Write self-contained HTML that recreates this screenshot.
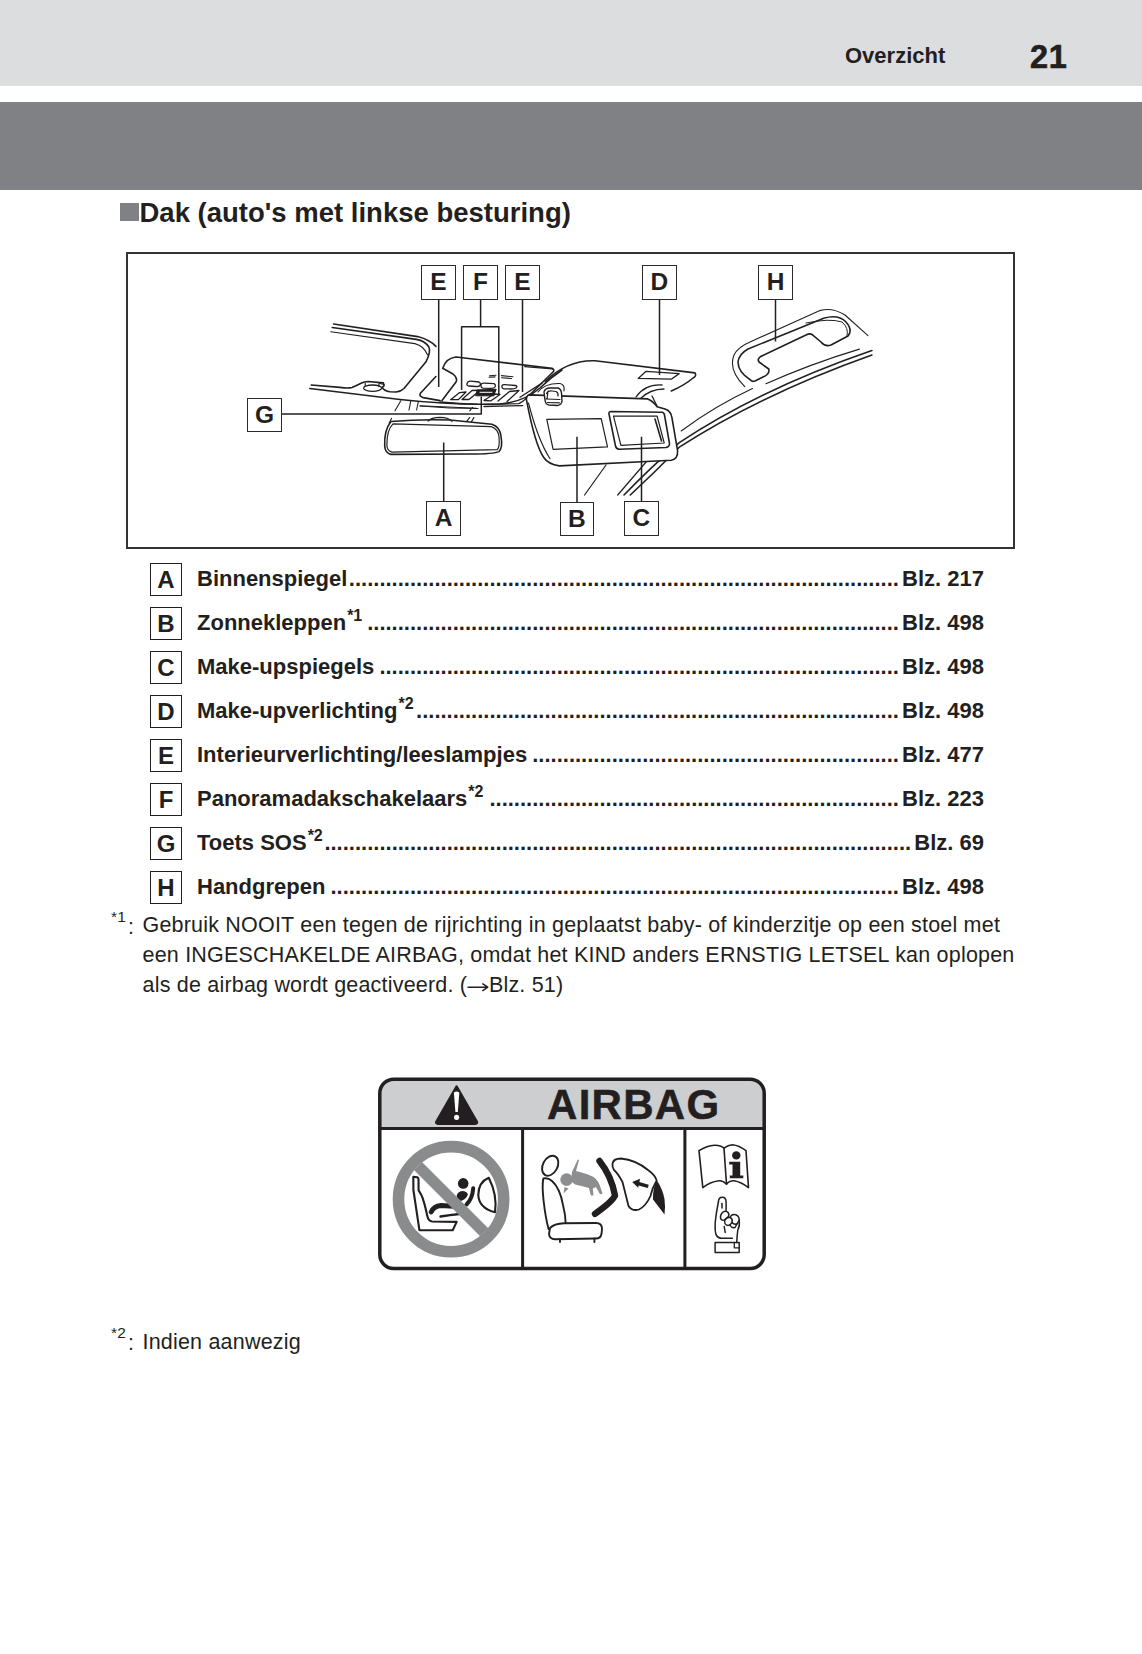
<!DOCTYPE html>
<html><head><meta charset="utf-8">
<style>
html,body{margin:0;padding:0;}
body{width:1142px;height:1654px;position:relative;background:#fff;overflow:hidden;font-family:"Liberation Sans",sans-serif;color:#231f20;}
.abs{position:absolute;}
#topbar{left:0;top:0;width:1142px;height:86px;background:#dcdddf;}
#darkbar{left:0;top:102px;width:1142px;height:88px;background:#808185;}
.hdr{font-weight:bold;white-space:nowrap;line-height:1;}
.lbl{position:absolute;box-sizing:border-box;border:1.8px solid #2b2b2b;width:34.4px;height:34.4px;font-weight:bold;font-size:24.5px;line-height:31.7px;text-align:center;background:#fff;}
.li{position:absolute;left:149.7px;width:32.7px;height:32.7px;box-sizing:border-box;border:1.5px solid #231f20;font-size:24px;line-height:31px;text-align:center;font-weight:bold;}
.row{position:absolute;left:197px;width:787px;height:38px;font-weight:bold;font-size:22px;line-height:24px;white-space:nowrap;overflow:hidden;}
.row .t{position:absolute;left:0;top:10px;}
.row .d{position:absolute;top:10px;}
.row .p{position:absolute;right:0;top:10px;}
sup{font-size:16px;vertical-align:0;position:relative;top:-9px;margin-left:1px;}
.fn{font-size:21.5px;line-height:30px;white-space:nowrap;letter-spacing:0.2px;}
</style></head>
<body>
<div id="topbar" class="abs"></div>
<div id="darkbar" class="abs"></div>
<div class="abs hdr" style="left:845px;top:44.5px;font-size:22px;">Overzicht</div>
<div class="abs hdr" style="left:1030px;top:40.5px;font-size:32.5px;letter-spacing:0.8px;-webkit-text-stroke:0.6px #231f20;">21</div>

<div class="abs" style="left:119.5px;top:202.5px;width:19px;height:18.5px;background:#808185;"></div>
<div class="abs hdr" style="left:139.5px;top:198.5px;font-size:27.5px;">Dak (auto's met linkse besturing)</div>

<!-- diagram frame -->
<div class="abs" style="left:126px;top:252.3px;width:889.4px;height:296.7px;box-sizing:border-box;border:2px solid #333;"></div>

<!-- diagram svg -->
<svg class="abs" style="left:0;top:0" width="1142" height="560" viewBox="0 0 1142 560" fill="none" stroke="#231f20" stroke-linecap="round" stroke-linejoin="round">
<g stroke-width="1.6">
<!-- roof left -->
<path d="M333.6 324 L417.7 336.6 Q430 340 435.9 346.4"/>
<path d="M311.2 385 L340 387.4 Q348 388.5 352 387.5 Q357 385.5 361 383.3 Q364 381.5 368 381.5 L383.4 382.9 L384.1 385.6 L382.2 387.4 Q384 391 390 391.8 L396 392 Q401 391.5 404 388.5 L426 361.8 Q431 352 428.9 347 Q425 341 416.3 339.4 L332.2 327.5"/>
<path d="M330.8 331.7 L414.9 343.6 Q424 346 427.5 354.8" stroke-width="1.1"/>
<ellipse cx="372.6" cy="388.2" rx="9" ry="3.2" stroke-width="1.3"/><path d="M365.2 383.3 V386 M378.9 383.6 V386.6 M380 383.5 L384 384.5" stroke-width="1.2"/>
<path d="M309.8 388.5 L400 399.5 Q455 405.5 500 404 Q524 402 540 388 Q550 378 562 370" />
<path d="M420 406 Q450 408.5 478 408.5" stroke-width="1.1"/>
<!-- console -->
<path d="M435.9 376.5 L420.2 393.5 Q419 396.5 423.3 397.6 L440 400.6"/>
<path d="M442 400.6 L456 382 Q458 378 453 374 L442.7 368.3 Q446 358 456 357 L552 368.3 Q555 370 553 372 L526 398.5"/>
<path d="M467 384 Q467.5 381 471 381.2 L479 382 Q481 383 480 385.5 Q479 386.8 476 386.5 L469 386 Q466.5 385.8 467 384 Z M481 384.5 Q481.5 383 484 383.1 L494 383.6 Q496 384.5 495 387 Q494 388.5 491 388.4 L483 388.2 Q480.5 387.5 481 384.5 Z M502 386 Q502 384.5 505 384.7 L515.5 385.5 Q518 386 516 388 Q514.5 389 511 389 L504 388.8 Q501.5 388.5 502 386 Z" stroke-width="1.3"/>
<path d="M450.6 399.7 L459.7 392.6 L466 392 L458.5 399.5 Z M462 399.5 L472 390.5 L496 389.5 L495 391.5 L478 392 L469 399.5 Z M484 400.5 L494 394 L500 394.5 L491 400.8 Z M498 401 L509.5 391.5 L519 390.5 L507 401.5" stroke-width="1.3"/>
<path d="M477.5 390 L495.5 390 L494 395.8 L476 395.8 Z" fill="#231f20" stroke-width="1"/>
<path d="M480 392.3 L492 392.3" stroke="#fff" stroke-width="1"/>
<path d="M489.5 375.8 L496 375.3 M489 377.2 L495 376.9 M501.5 375.6 L513 376.8 M501.5 377.7 L511.5 378.5" stroke-width="1.1"/>
<path d="M440 402 Q460 404 477.8 404.4 M484.1 404.4 L518.8 403.6 Q525 401 530 394.2 M484 406.5 L522.7 405.6" stroke-width="1.3"/>
<!-- windshield thin lines left -->
<g stroke-width="1.1">
<path d="M395 410.8 L400.8 400.8 M409 410 L410.8 400.8 M416.6 410 L418.3 401.6 M420 405.8 L476.5 408.3 M469.8 410.8 L472.3 407.5"/>
<path d="M389.1 423.3 L391.6 418.3 M466.5 421.6 L469.8 417.4 M471.5 421.6 L474 417.4"/>
</g>
<!-- mirror -->
<path d="M391 421.5 Q420 419 450 420 L491.9 424.3 Q500 427 501 436.2 Q503 448 498.9 451.6 Q494 454 470 454 L391 454.4 Q385 453 384.7 446 Q384 430 391 421.5 Z"/>
<path d="M393 423.9 L491.3 426.6 Q498.3 429 499 437 Q500 447.5 497 449.7 L392 452.2 Q387.2 451 386.9 445.5 Q386.6 430 393 423.9 Z" stroke-width="1.2"/>
<path d="M428 421 Q431 417.5 440 417.3 Q449 417.5 452 421.5" stroke-width="1.2"/>
<!-- headliner above visor -->
<path d="M545.2 381.5 C558 369 574 360 595 360.8 L695 372.9 Q697 376 693 378 Q685 385 671.3 391"/>
<path d="M520 397.3 L542 383.1 M524.7 366.6 L552.3 368.9" stroke-width="1.3"/>
<path d="M638.2 378.4 L646.1 371.3 L679.2 373.6 L671.3 379.2 Z" stroke-width="1.3"/>

<path d="M636 397 Q645 384 662 385 M640 399 Q650 389 664 389 M652 396 L657 406" stroke-width="1.3"/>
<!-- roof lines right -->
<path d="M584.6 495 L606 465 M617.7 495 L646.1 462" stroke-width="1.2"/>
<path d="M624 495 Q650 468 679.3 442.6 Q760 389 871.9 350.5"/>
<path d="M630.3 495 Q655 472 679.3 447.2 Q762 394 871.9 355"/>
<path d="M681.2 431 Q715 406 752.5 388.6 M766 383.8 Q810 364 859.4 349.1" stroke-width="1.1"/>
<!-- visor -->
<path fill="#fff" d="M529.5 394.9 L647.7 398.9 Q653 401 657.1 406.7 L665 409.1 Q671 411 672 418 L677.6 450.9 Q678 459 671.3 460.3 L559.4 465.9 Q548 464 543.6 457.2 Q535 445 526.3 398.9 Q527 395 529.5 394.9 Z"/>
<path d="M528.5 403 Q538 440 550 458.8" stroke-width="1.1"/>
<path d="M546.8 419.4 L601.2 418.6 L607.5 446.9 L553.1 449.3 Z" stroke-width="1.2"/>
<path d="M611 411.5 L661.9 412.3 Q664 412.5 664.5 415 L669.5 443.5 Q669.5 447 666 447.5 L619.3 449.3 Q616 449 615.5 446 L609 414 Q608.5 411.5 611 411.5 Z"/>
<path d="M613.5 416.2 L657.1 416.2 L664.2 443 L620.9 445.4 Z" stroke-width="1.2"/>
<path d="M655 419 L661.5 441" stroke-width="1.6"/>
<path d="M544 392 Q545 388 550 388 L558 388 Q561 389 561.5 393 L562 401 Q561.5 405 557.5 405.5 L549 405 Q545.5 404.5 545 400 Z" fill="#fff" stroke-width="1.4"/>
<path d="M546.5 393.5 Q548 390.5 552 391 L556 391.5 Q558.5 392.5 558 396 M546 399 L560 399.5 M547.5 402.5 L559.5 402.8 M548 391 L547 399" stroke-width="1.2"/>
<path d="M538 392 Q545 383 560 383.5 Q565 384.5 564 391" stroke-width="1.1"/>
<!-- handle -->
<path d="M744.8 386.7 Q728 370 734 355 Q738 347 750 342 L819.9 310.6 Q832 307 845 315 L868 335.6" stroke-width="1.1"/>
<path d="M750.5 380 Q738 372 738 362 Q739 354 748 349 L823.7 318.3 Q838 314 846 322 Q853 330 848 336 L831 345 Q825 347 821 342 L812.2 334.7 Q810 333 806 335 L760.2 356.8 Q757 359 759 362 L768.8 369 Q770 374 763 377 L755 381 Q752 382 750.5 380 Z"/>
<path d="M806 323 Q830 318 842 322 Q849 328 847 336" stroke-width="1"/>
</g>
<!-- leaders -->
<g stroke-width="1.5" stroke-linecap="butt">
<path d="M438.7 299 V387 M480.6 299 V326.7 M461.6 390 V326.7 H498.8 V394.3 M522.5 299 V392 M659.5 299 V375 M775.5 299 V341.4 M281 414 H481.3 V396.5 M443.7 502 V442.5 M577 502 V436.7 M641.5 502 V436.7"/>
</g>
</svg>

<div class="lbl" style="left:421.3px;top:265.2px;">E</div>
<div class="lbl" style="left:463.2px;top:265.4px;">F</div>
<div class="lbl" style="left:505.3px;top:265.4px;">E</div>
<div class="lbl" style="left:642.2px;top:265.4px;">D</div>
<div class="lbl" style="left:758.3px;top:265.4px;">H</div>
<div class="lbl" style="left:247.4px;top:398.1px;">G</div>
<div class="lbl" style="left:426.3px;top:501.3px;">A</div>
<div class="lbl" style="left:559.6px;top:501.5px;">B</div>
<div class="lbl" style="left:624.2px;top:501.4px;">C</div>

<!-- list -->
<div class="li" style="top:563.1px;">A</div>
<div class="li" style="top:607.1px;">B</div>
<div class="li" style="top:651.1px;">C</div>
<div class="li" style="top:695.1px;">D</div>
<div class="li" style="top:739.1px;">E</div>
<div class="li" style="top:783.1px;">F</div>
<div class="li" style="top:827.1px;">G</div>
<div class="li" style="top:871.1px;">H</div>

<div class="row" style="top:557px;"><span class="t">Binnenspiegel</span><span class="d" style="left:151.84px;">..........................................................................................</span><span class="p">Blz. 217</span></div>
<div class="row" style="top:601px;"><span class="t">Zonnekleppen<sup>*1</sup> </span><span class="d" style="left:170.17px;">.......................................................................................</span><span class="p">Blz. 498</span></div>
<div class="row" style="top:645px;"><span class="t">Make-upspiegels </span><span class="d" style="left:182.40px;">.....................................................................................</span><span class="p">Blz. 498</span></div>
<div class="row" style="top:689px;"><span class="t">Make-upverlichting<sup>*2</sup></span><span class="d" style="left:219.07px;">...............................................................................</span><span class="p">Blz. 498</span></div>
<div class="row" style="top:733px;"><span class="t">Interieurverlichting/leeslampjes </span><span class="d" style="left:335.21px;">............................................................</span><span class="p">Blz. 477</span></div>
<div class="row" style="top:777px;"><span class="t">Panoramadakschakelaars<sup>*2</sup> </span><span class="d" style="left:292.43px;">...................................................................</span><span class="p">Blz. 223</span></div>
<div class="row" style="top:821px;"><span class="t">Toets SOS<sup>*2</sup></span><span class="d" style="left:127.40px;">................................................................................................</span><span class="p">Blz. 69</span></div>
<div class="row" style="top:865px;"><span class="t">Handgrepen </span><span class="d" style="left:133.50px;">.............................................................................................</span><span class="p">Blz. 498</span></div>

<!-- footnote 1 -->
<div class="abs fn" style="left:111px;top:906.5px;font-size:15.5px;line-height:20px;">*1</div>
<div class="abs fn" style="left:128px;top:911.5px;">:</div>
<div class="abs fn" style="left:142.5px;top:910px;">Gebruik NOOIT een tegen de rijrichting in geplaatst baby- of kinderzitje op een stoel met<br>een INGESCHAKELDE AIRBAG, omdat het KIND anders ERNSTIG LETSEL kan oplopen<br>als de airbag wordt geactiveerd. (<span style="display:inline-block;width:21.7px;height:10px;position:relative;"><svg style="position:absolute;left:0;top:0" width="22" height="10" viewBox="0 0 22 10" fill="none" stroke="#231f20" stroke-width="1.4" stroke-linecap="round" stroke-linejoin="round"><path d="M1 5.2 H20.5 M15.8 1.8 L20.8 5.2 L15.8 8.6"/></svg></span>Blz. 51)</div>

<!-- airbag label -->
<svg class="abs" style="left:0;top:1060px" width="1142" height="230" viewBox="0 1060 1142 230" fill="none" stroke="#231f20">
<path d="M393.8 1079.2 H750.2 Q764.2 1079.2 764.2 1093.2 V1128.4 H379.8 V1093.2 Q379.8 1079.2 393.8 1079.2 Z" fill="#cdcecf" stroke="none"/>
<rect x="379.8" y="1079.2" width="384.4" height="189.4" rx="14" ry="14" stroke-width="3.5"/>
<path d="M379.8 1128.4 H764.2" stroke-width="3"/>
<path d="M522.6 1128.4 V1268.6 M684.9 1128.4 V1268.6" stroke-width="3"/>
<!-- warning triangle -->
<path d="M456.6 1086.5 L436.5 1121.5 Q435.5 1123.7 438 1123.7 H475.2 Q477.7 1123.7 476.7 1121.5 Z" fill="#231f20" stroke="#231f20" stroke-width="2.5" stroke-linejoin="round"/>
<path d="M453.9 1092.5 Q456.6 1090.5 459.3 1092.5 L457.8 1112 H455.4 Z" fill="#fff" stroke="none"/>
<circle cx="456.6" cy="1117.3" r="2.6" fill="#fff" stroke="none"/>
<!-- panel 1: no child seat -->
<circle cx="451.1" cy="1199.2" r="52.6" stroke="#8a8b8d" stroke-width="11.6"/>
<g stroke-width="2.1" stroke-linejoin="round" stroke-linecap="round">
<path d="M413.3 1176.8 L417.6 1177.4 Q418.4 1177.8 418.5 1179 L418.6 1190.4 Q421 1194 422.5 1197.6 Q425 1205 426.5 1212.3 Q427.5 1218 428.6 1219.3 Q430 1221.3 432.1 1221.5 L456.7 1221.9 L452.7 1230.2 L419.4 1230.2 L413.4 1190 Z"/>
<path d="M488.8 1177.8 Q478.5 1182 478.3 1195 Q478.8 1208 495 1212.3 Q497.5 1195 488.8 1177.8 Z"/>
</g>
<g fill="#231f20" stroke="none">
<circle cx="463.2" cy="1183.4" r="5.3"/>
<path d="M456.7 1195.6 Q458 1191 463 1191 Q467.5 1191.5 467.8 1194.5 Q467 1198 464.5 1199.3 L461 1200.9 Q457 1200.5 456.7 1195.6 Z"/>
</g>
<path d="M473.2 1188.3 Q472.5 1198.5 466.5 1204.5" stroke-width="4" stroke-linecap="round"/>
<path d="M431.2 1212 Q434 1206 441 1205.5 L458 1206.5" stroke-width="4.8" stroke-linecap="round"/>
<path d="M440.5 1216.5 Q450 1215 459.5 1214" stroke-width="2.4" stroke-linecap="round"/>
<path d="M418 1166 L484.2 1232.3" stroke="#8a8b8d" stroke-width="11.4"/>
<!-- panel 2 -->
<g stroke-width="1.9" stroke-linejoin="round" stroke-linecap="round">
<ellipse cx="550.2" cy="1165.7" rx="7.3" ry="10.6" transform="rotate(28 550.2 1165.7)"/>
<path d="M543.5 1178.5 Q548 1177.5 552 1181 Q560 1188 563 1205 Q565.5 1215 565.6 1222.5 M543.2 1179 Q542 1186 543.5 1200 Q545.5 1218 548.6 1229"/>
<path d="M550 1228 Q554 1223.5 564 1223.2 L596 1223 Q602 1223 602 1229 L601.5 1234 Q600.5 1238.5 596 1238.5 L555 1239.3 Q549.5 1239 549 1234 Z"/>
<path d="M560 1239.3 V1242 M594.4 1238.5 V1242"/>
</g>
<g fill="#8d8e90" stroke="none">
<circle cx="566.6" cy="1179.6" r="6.3"/>
<path d="M577.8 1159.5 L579 1160 L576 1171 Q581 1172 588 1174.5 Q598 1178 600 1186 L602.5 1193.5 Q601 1195 599.5 1193.5 L596 1187 L592.8 1188.5 L593.5 1195 Q591.5 1196.5 590.5 1194.5 L589 1188 Q583 1186 575 1184.5 L572 1182 Q571 1176 572 1172 Z"/>
<path d="M564.5 1187 L568.5 1188.5 L563.5 1193.5 Z"/>
</g>
<path d="M599.5 1161 Q611.5 1176 615 1195.5 Q612.5 1201.5 595 1213.8" stroke="#231f20" stroke-width="6.4" stroke-linecap="round" stroke-linejoin="round" fill="none"/>
<g stroke-width="1.8" stroke-linejoin="round">
<path d="M612.5 1164 Q613 1158.5 621 1158.5 Q636 1160 648 1170 Q655 1175 656.7 1180.4 Q652 1188 650.5 1196 Q646 1206 639 1209.5 Q632 1211.5 628.5 1206 Q626 1196 622.5 1182 Q618 1173.5 614 1170 Q612 1167 612.5 1164 Z"/>
</g>
<path d="M656.7 1180 Q663 1190 664.5 1199 Q665.5 1207 664.5 1214.5 Q658 1206 653 1199.5 Q652.5 1189 656.7 1180 Z" fill="#231f20" stroke="none"/>
<path d="M648.3 1186.4 L638 1183.5" stroke-width="3.4"/>
<path d="M632.2 1182 L640 1178.8 L638.2 1187.7 Z" fill="#231f20" stroke="none"/>
<!-- panel 3 -->
<g stroke-width="1.6" stroke-linejoin="round">
<path d="M699 1150.7 Q707 1145.5 714.6 1145.2 Q720.5 1145 724 1148.2 Q728 1145 732.4 1144.8 Q739 1145.5 746 1150.7 L748.5 1187.6 Q741 1182 734.1 1180.8 Q729.5 1180.5 726.5 1184.2 Q723 1180.5 718.9 1180.8 Q710 1182 702.8 1187.6 Z"/>
<path d="M724 1148.2 L726.5 1184.2"/>
</g>
<g fill="#231f20" stroke="none">
<circle cx="736.3" cy="1155.4" r="4.2"/>
<path d="M729.2 1161.8 H740.2 V1175.5 H743.3 V1178.2 H729.8 V1175.5 H732.5 V1164.5 H729.2 Z"/>
</g>
<g stroke-width="1.5" stroke-linejoin="round" stroke-linecap="round">
<path d="M718.4 1202 Q718.6 1197.3 722.3 1197.3 Q726 1197.3 726.1 1202 L726.1 1210.5"/>
<path d="M718.4 1202 Q716 1214 715.2 1223 Q714.8 1233 716.5 1235.5 Q718.5 1238.5 722 1238.3 L732.4 1238.2"/>
<path d="M722 1203.5 V1208"/>
<path d="M721.6 1213.5 Q723.5 1210.6 727 1211.6 Q729.6 1213 728.6 1216.4 L725 1219.6 Q721.8 1221.3 720.6 1218.4 Q720 1216 721.6 1213.5 Z"/>
<path d="M725 1219.6 Q727 1216.8 730.5 1217.6 Q733 1219.3 732 1222.5 L729.8 1225 Q726.5 1226.3 725 1223.5 Q724.3 1221.5 725 1219.6 Z"/>
<path d="M730.4 1216.6 Q732.2 1213.8 735.8 1214.8 Q739.4 1216.2 739.2 1220.5 L737.2 1223.6 Q734.3 1225.2 732 1222.5"/>
<path d="M729.8 1225 Q731.6 1228.3 735 1227.5 L737.2 1223.6"/>
<path d="M724.2 1226.5 L725.2 1232.5"/>
<path d="M739.2 1220.5 Q740 1226 737.8 1230 Q737 1236 736.7 1242.6"/>
<path d="M715.1 1242.6 H739.2 V1252.4 H715.1 Z"/>
<path d="M734.3 1242.6 V1247.8 H739.2" stroke-width="1.3"/>
</g>
</svg>
<div class="abs hdr" style="left:547px;top:1084px;font-size:42px;letter-spacing:1.3px;-webkit-text-stroke:0.5px #231f20;">AIRBAG</div>

<!-- footnote 2 -->
<div class="abs fn" style="left:111px;top:1322.5px;font-size:15.5px;line-height:20px;">*2</div>
<div class="abs fn" style="left:128px;top:1328.3px;">:</div>
<div class="abs fn" style="left:142.5px;top:1327.3px;">Indien aanwezig</div>
</body></html>
